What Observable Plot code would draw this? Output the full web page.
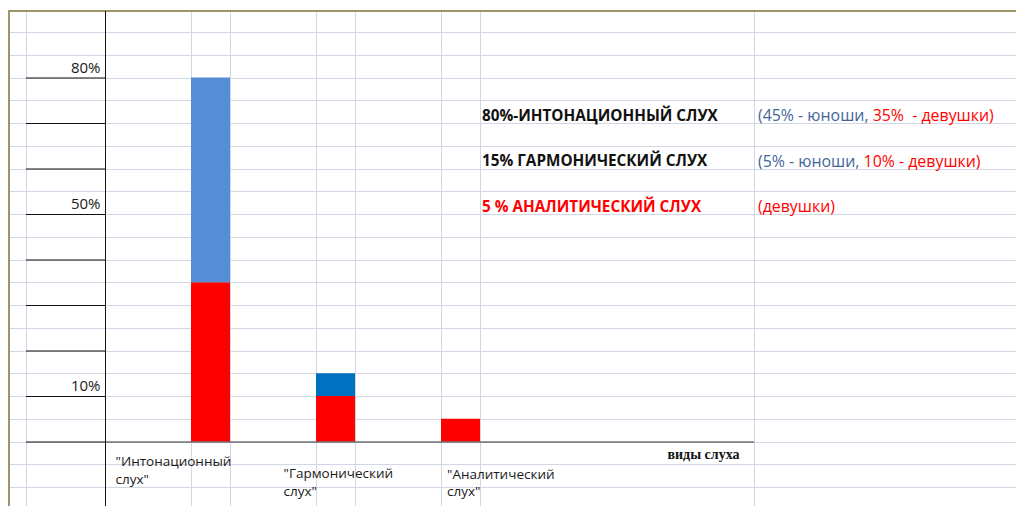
<!DOCTYPE html>
<html><head><meta charset="utf-8">
<script src="https://cdn.jsdelivr.net/npm/d3@7"></script>
<script src="https://cdn.jsdelivr.net/npm/@observablehq/plot@0.6"></script>
<style>
html,body{margin:0;padding:0;background:#fff;}
#chart svg{display:block;}
</style></head><body><div id="chart"></div>
<script>
// ---- data ----
const categories = ['"Интонационный слух"', '"Гармонический слух"', '"Аналитический слух"'];
const girls = [35, 10, 5];   // девушки (red, bottom)
const boys  = [45, 5, 0];    // юноши (blue, top)
const yTicks = [0, 10, 20, 30, 40, 50, 60, 70, 80];
const yTickLabels = [80, 50, 10];
const xAxisTitle = "виды слуха";
const notesLeft = ["80%-ИНТОНАЦИОННЫЙ СЛУХ", "15% ГАРМОНИЧЕСКИЙ СЛУХ", "5 % АНАЛИТИЧЕСКИЙ СЛУХ"];
const notesBoys = ["(45% - юноши, ", "(5% - юноши, ", ""];
const notesGirls = ["35%  - девушки)", "10% - девушки)", "(девушки)"];

// ---- styles ----
const FONT = "'Open Sans', Roboto, sans-serif";
const RED = "#FF0000", BLUE1 = "#558ED5", BLUE2 = "#0070C0";
const TXT_BLUE = "#3F6698", GRID = "#D0D7E5", OLIVE = "#9D9565";

const rows = categories.flatMap((c, i) => [
  {cat: c, group: "девушки", value: girls[i]},
  {cat: c, group: "юноши", value: boys[i]}
]);

const noteRows = [0, 1, 2].map(i => ({i, left: notesLeft[i], right: notesBoys[i] + notesGirls[i]}));
const noteY = [70, 60, 50];

const labelMark = (i, dx, dy) => Plot.text([categories[i]], {
  x: d => d, y: () => 0, text: d => d.replace(" ", "\n"),
  textAnchor: "start", lineAnchor: "top", lineHeight: 1.32,
  dx, dy, fill: "#1a1a1a", fontSize: 13.5
});

const chart = Plot.plot({
  width: 1016, height: 506,
  marginLeft: 105, marginRight: 262, marginTop: 11, marginBottom: 0,
  style: {fontFamily: FONT, fontSize: "14px", background: "transparent", overflow: "visible"},
  x: {type: "band", domain: categories, range: [148, 523], paddingInner: 0.688, paddingOuter: 0.344, axis: null},
  y: {domain: [0, 80], range: [441.5, 77.5], axis: null},
  marks: [
    Plot.barY(rows, {
      x: "cat", y: "value",
      fill: d => d.group === "девушки" ? RED : (d.cat === categories[1] ? BLUE2 : BLUE1)
    }),
    Plot.axisY({ticks: yTicks, tickSize: 79, tickFormat: () => "", stroke: "#111", label: null}),
    Plot.axisY({ticks: yTickLabels, tickSize: 0, tickPadding: 5, tickFormat: d => d + "%", dy: -10, fill: "#1a1a1a", fontSize: 15, label: null}),
    Plot.ruleY([0], {stroke: "#333", strokeWidth: 1.2}),
    Plot.frame({anchor: "left", stroke: "#111"}),
    labelMark(0, -95.5, 11.5),
    labelMark(1, -52.5, 23.5),
    labelMark(2, -14, 24),
    Plot.text([xAxisTitle], {frameAnchor: "right", y: () => 0, textAnchor: "end", lineAnchor: "top",
      dx: -15, dy: 7.5, fontFamily: "'Liberation Serif', serif", fontWeight: "bold", fontSize: 14, fill: "#111"}),
    Plot.text(noteRows, {x: () => categories[2], y: d => noteY[d.i], text: "left", textAnchor: "start",
      lineAnchor: "top", dx: 21, dy: -13.7, fontWeight: "bold", fontSize: 15.3,
      fill: d => d.i === 2 ? RED : "#111"}),
    Plot.text(noteRows, {x: () => categories[2], y: d => noteY[d.i], text: "right", textAnchor: "start",
      lineAnchor: "top", dx: 297, dy: -13.7, fontSize: 15.9, fill: RED})
  ]
});

// split the right-hand notes into blue (юноши) and red (девушки) parts
d3.select(chart).selectAll("text").each(function() {
  const el = d3.select(this);
  const t = el.text();
  const i = noteRows.findIndex(r => r.right && r.right === t);
  if (i >= 0 && notesBoys[i]) {
    const tsp = el.select("tspan");
    const target = tsp.empty() ? el : tsp;
    target.text(null);
    target.append("tspan").attr("fill", TXT_BLUE).text(notesBoys[i]);
    target.append("tspan").attr("fill", RED).text(notesGirls[i]);
  }
});

// spreadsheet grid background, derived from the chart's own scales
const xs = chart.scale("x"), ys = chart.scale("y");
const yPx = v => ys.range[0] + (v - ys.domain[0]) * (ys.range[1] - ys.range[0]) / (ys.domain[1] - ys.domain[0]);
const bg = d3.select(chart).insert("g", ":first-child");
const rowVals = d3.range(-10, 95, 5);
const sheetTop = 11, W = 1016, H = 506;
rowVals.forEach(v => {
  const y = Math.round(yPx(v)) + 0.5;
  if (y > sheetTop) bg.append("line").attr("x1", 9).attr("x2", W).attr("y1", y).attr("y2", y).attr("stroke", GRID);
});
const bw = xs.bandwidth;
const colX = [26, 754];
categories.forEach(c => {
  const p = xs.apply(c);
  colX.push(p, p + bw);
});
colX.forEach(x => {
  const xx = Math.round(x) + 0.5;
  bg.append("line").attr("x1", xx).attr("x2", xx).attr("y1", sheetTop).attr("y2", H).attr("stroke", GRID);
});
// outer sheet border
bg.append("line").attr("x1", 8).attr("x2", W).attr("y1", 11).attr("y2", 11).attr("stroke", OLIVE).attr("stroke-width", 2);
bg.append("line").attr("x1", 9).attr("x2", 9).attr("y1", 10).attr("y2", H).attr("stroke", OLIVE).attr("stroke-width", 2);

document.getElementById("chart").appendChild(chart);
</script>
</body></html>
